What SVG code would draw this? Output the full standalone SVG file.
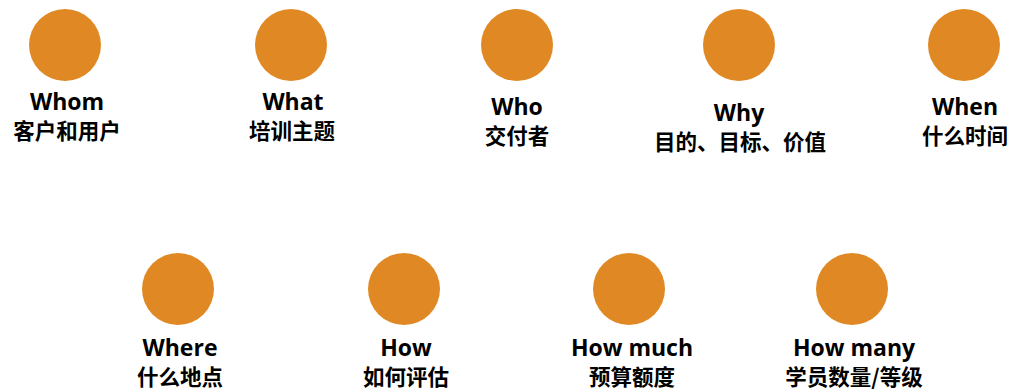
<svg xmlns="http://www.w3.org/2000/svg" width="1015" height="389" viewBox="0 0 1015 389">
<style>
.dot{fill:#E08924}
.en{font-family:"Open Sans","Liberation Sans","Noto Sans CJK SC",sans-serif;font-weight:700;font-size:23px;fill:#000;text-anchor:middle}
.zh{font-family:"Noto Sans CJK SC","Noto Sans",sans-serif;font-weight:700;font-size:21.5px;fill:#000;text-anchor:middle}
</style>
<rect width="1015" height="389" fill="#fff"/>
<g id="connectors"/>
<g id="whom"><circle class="dot" cx="65" cy="45" r="36"/><text class="en" x="67" y="110">Whom</text><text class="zh" x="67" y="139">客户和用户</text></g>
<g id="what"><circle class="dot" cx="291" cy="45" r="36"/><text class="en" x="293" y="110">What</text><text class="zh" x="292" y="139">培训主题</text></g>
<g id="who"><circle class="dot" cx="517" cy="45" r="36"/><text class="en" x="517" y="115">Who</text><text class="zh" x="517" y="144">交付者</text></g>
<g id="why"><circle class="dot" cx="739" cy="45" r="36"/><text class="en" x="739" y="121">Why</text><text class="zh" x="740" y="150">目的、目标、价值</text></g>
<g id="when"><circle class="dot" cx="964" cy="45" r="36"/><text class="en" x="965" y="115">When</text><text class="zh" x="965" y="144">什么时间</text></g>
<g id="where"><circle class="dot" cx="178" cy="289" r="36"/><text class="en" x="180" y="356">Where</text><text class="zh" x="180" y="385">什么地点</text></g>
<g id="how"><circle class="dot" cx="404" cy="289" r="36"/><text class="en" x="406" y="356">How</text><text class="zh" x="406" y="385">如何评估</text></g>
<g id="howmuch"><circle class="dot" cx="629" cy="289" r="36"/><text class="en" x="632" y="356">How much</text><text class="zh" x="632" y="385">预算额度</text></g>
<g id="howmany"><circle class="dot" cx="852" cy="289" r="36"/><text class="en" x="854" y="356">How many</text><text class="zh" x="854" y="385">学员数量/等级</text></g>
</svg>
